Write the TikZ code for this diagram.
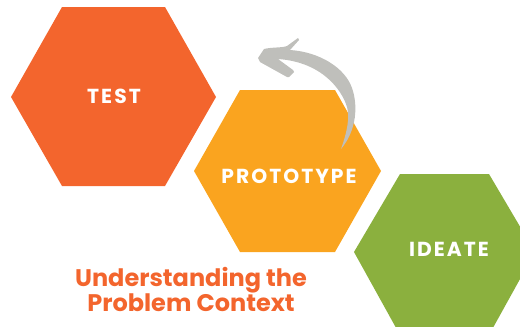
\documentclass[tikz,border=0pt]{standalone}
\usepackage{fontspec}
\setmainfont{Poppins}
\definecolor{orangeA}{HTML}{F3652D}
\definecolor{amberA}{HTML}{FAA41F}
\definecolor{greenA}{HTML}{8BB03E}
\definecolor{greyA}{HTML}{BFBFBB}
\tikzset{hexlabel/.style={text=white,font=\fontsize{20.3}{20}\selectfont\bfseries}}
\begin{document}
\begin{tikzpicture}[x=1pt,y=-1pt]
\useasboundingbox (0,0) rectangle (520,327);
\clip (0,0) rectangle (520,327);
\fill[orangeA] (11,97) -- (62,7) -- (165,7) -- (216,97) -- (165,186) -- (62,186) -- cycle;
\fill[amberA] (194,171) -- (240,90) -- (335,90) -- (381,171) -- (335,252) -- (240,252) -- cycle;
\fill[greenA] (354,252) -- (400,174) -- (489,174) -- (535,252) -- (489,335) -- (400,335) -- cycle;
\fill[greyA] (341,149) .. controls (347,132) and (350,118) .. (347,107)
 .. controls (342,90) and (322,62) .. (278,59)
 -- (293,70) -- (294,72) -- (289,77) -- (287,77) -- (260,62) -- (258,58) -- (264,49)
 .. controls (272,47) and (282,48) .. (287,46) -- (298,38) -- (299,40) -- (290,50)
 .. controls (320,52) and (345,68) .. (352,88)
 .. controls (358,105) and (357,130) .. (341,149) -- cycle;
\node[hexlabel] (test) at (114,96) {\addfontfeature{LetterSpace=10}TEST};
\node[hexlabel] (proto) at (289,176) {\addfontfeature{LetterSpace=10}PROTOTYPE};
\node[hexlabel] (ideate) at (449,249) {\addfontfeature{LetterSpace=10}IDEATE};
\node[text=orangeA,font=\fontsize{24}{25}\selectfont\bfseries,align=center] (title) at (191,289) {Understanding the\\Problem Context};
\end{tikzpicture}
\end{document}
